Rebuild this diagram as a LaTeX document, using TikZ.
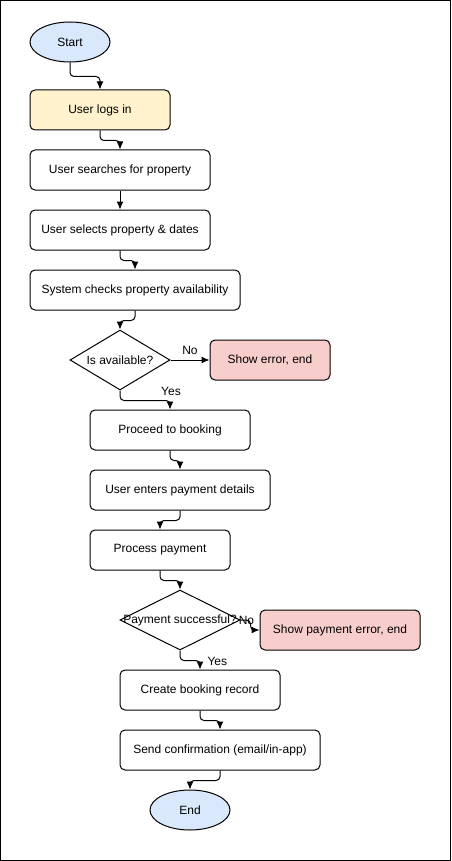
\documentclass[tikz,border=0pt]{standalone}
\usepackage{fontspec}
\setmainfont{Liberation Sans}
\usepackage{tikz}
\usetikzlibrary{arrows,arrows.meta,shapes,positioning}
\definecolor{termblue}{HTML}{DAE8FC}
\definecolor{loginyellow}{HTML}{FFF2CC}
\definecolor{errorred}{HTML}{F8CECC}
\tikzset{
    basic/.style  = {draw, black, line width=1pt, font=\fontsize{12}{14}\selectfont, align=center, inner sep=0pt},
    terminal/.style = {basic, ellipse, fill=termblue, minimum width=80pt, minimum height=40pt},
    stepbox/.style = {basic, rectangle, rounded corners=5pt, fill=white, minimum height=40pt},
    loginbox/.style = {stepbox, fill=loginyellow},
    errorbox/.style = {stepbox, fill=errorred},
    decision/.style = {basic, diamond, fill=white, minimum height=60pt},
    flow/.style = {->, draw, line width=1pt, rounded corners=4pt},
    edge label/.style = {font=\fontsize{12}{14}\selectfont, inner sep=0pt}
}

\begin{document}
\begin{tikzpicture}[x=1pt, y=-1pt, >={Latex[length=8pt,width=7pt]}]
	\useasboundingbox (0,0) rectangle (451,861);
	\draw[line width=1pt] (0.5,0.5) rectangle (450.5,860.5);
	% nodes
	\node[terminal] (start) at (70,42) {Start};
	\node[loginbox, minimum width=140pt] (login) at (100,110) {User logs in};
	\node[stepbox, minimum width=180pt] (search) at (120,170) {User searches for property};
	\node[stepbox, minimum width=180pt] (select) at (120,230) {User selects property \& dates};
	\node[stepbox, minimum width=210pt] (check) at (135,290) {System checks property availability};
	\node[decision, minimum width=100pt] (avail) at (120,360) {\makebox[0pt]{Is available?}};
	\node[errorbox, minimum width=120pt] (err) at (270,360) {Show error, end};
	\node[stepbox, minimum width=160pt] (proceed) at (170,430) {Proceed to booking};
	\node[stepbox, minimum width=180pt] (enter) at (180,490) {User enters payment details};
	\node[stepbox, minimum width=140pt] (process) at (160,550) {Process payment};
	\node[decision, minimum width=120pt] (paid) at (180,620) {\makebox[0pt]{Payment successful?}};
	\node[errorbox, minimum width=160pt] (payerr) at (340,630) {Show payment error, end};
	\node[stepbox, minimum width=160pt] (record) at (200,690) {Create booking record};
	\node[stepbox, minimum width=200pt] (confirm) at (220,750) {Send confirmation (email/in-app)};
	\node[terminal] (end) at (190,810) {End};
	% connectors
	\draw[flow] (start.south) -- ++(0,14) -| (login.north);
	\draw[flow] (login.south) -- ++(0,10) -| (search.north);
	\draw[flow] (search) -- (select);
	\draw[flow] (select.south) -- ++(0,10) -| (check.north);
	\draw[flow] (check.south) -- ++(0,10) -| (avail.north);
	\draw[flow] (avail.east) -- node[edge label, above=5pt] {No} (err.west);
	\draw[flow] (avail.south) -- ++(0,10) -| node[edge label, pos=0.5, anchor=south, yshift=4pt, xshift=1pt] {Yes} (proceed.north);
	\draw[flow] (proceed.south) -- ++(0,10) -| (enter.north);
	\draw[flow] (enter.south) -- ++(0,10) -| (process.north);
	\draw[flow] (process.south) -- ++(0,10) -| (paid.north);
	\draw[flow] (paid.east) -- ++(10,0) node[edge label, pos=0.6] {No} |- (payerr.west);
	\draw[flow] (paid.south) -- ++(0,10) -| node[edge label, pos=0.55, right=7pt] {Yes} (record.north);
	\draw[flow] (record.south) -- ++(0,10) -| (confirm.north);
	\draw[flow] (confirm.south) -- ++(0,10) -| (end.north);
\end{tikzpicture}
\end{document}
